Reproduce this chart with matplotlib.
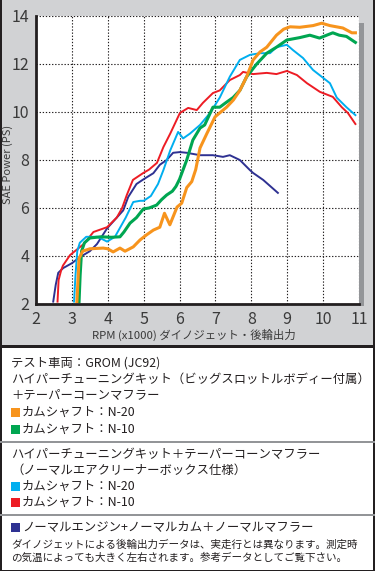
import matplotlib
matplotlib.use('Agg')
import matplotlib.pyplot as plt
from matplotlib.patches import Rectangle

plt.rcParams['font.family'] = ['Noto Sans CJK JP', 'DejaVu Sans']

# data (RPM x1000, SAE power PS)
rpm_n20_big = [3.14, 3.17, 3.2, 3.3, 3.5, 3.87, 4.0, 4.15, 4.34, 4.48, 4.71, 4.9, 5.08, 5.27,
               5.45, 5.58, 5.73, 5.93, 6.06, 6.2, 6.34, 6.45, 6.57, 6.76, 6.99, 7.15, 7.31,
               7.5, 7.68, 7.87, 8.05, 8.24, 8.43, 8.7, 8.9, 9.08, 9.35, 9.72, 9.96, 10.19,
               10.55, 10.8, 10.9]
ps_n20_big = [2.1, 3.0, 3.9, 4.2, 4.3, 4.33, 4.3, 4.17, 4.33, 4.2, 4.38, 4.67, 4.88, 5.08,
              5.2, 5.78, 5.3, 6.04, 6.2, 6.85, 7.1, 7.6, 8.5, 9.1, 9.8, 10.0, 10.2,
              10.5, 10.9, 11.47, 12.17, 12.5, 12.7, 13.2, 13.45, 13.55, 13.53, 13.6, 13.7, 13.6,
              13.5, 13.3, 13.3]

rpm_n10_big = [3.2, 3.23, 3.27, 3.35, 3.5, 3.8, 4.1, 4.34, 4.45, 4.62, 4.8, 4.99, 5.15, 5.36,
               5.5, 5.64, 5.8, 5.9, 6.0, 6.2, 6.37, 6.57, 6.7, 6.93, 7.12, 7.3, 7.49, 7.68,
               7.87, 8.15, 8.43, 8.7, 8.99, 9.35, 9.63, 9.9, 10.1, 10.27, 10.45, 10.65, 10.9]
ps_n10_big = [2.1, 3.2, 4.2, 4.55, 4.75, 4.8, 4.78, 4.8, 5.0, 5.37, 5.6, 5.96, 6.0, 6.12,
              6.35, 6.54, 6.7, 6.9, 7.2, 8.0, 8.83, 9.33, 9.46, 10.2, 10.2, 10.4, 10.6, 10.9,
              11.47, 12.0, 12.45, 12.7, 13.0, 13.1, 13.2, 13.08, 13.2, 13.3, 13.2, 13.15, 12.9]

rpm_n20_box = [3.06, 3.1, 3.15, 3.22, 3.4, 3.7, 3.85, 3.98, 4.2, 4.35, 4.5, 4.71, 4.9, 5.0,
               5.2, 5.4, 5.55, 5.74, 5.96, 6.1, 6.29, 6.57, 6.85, 7.12, 7.4, 7.68, 7.96, 8.24,
               8.52, 8.7, 8.99, 9.16, 9.44, 9.72, 9.96, 10.19, 10.38, 10.65, 10.9]
ps_n20_box = [2.1, 3.2, 4.2, 4.55, 4.8, 4.8, 4.7, 4.6, 4.8, 5.2, 5.6, 6.25, 6.3, 6.3,
              6.5, 7.0, 7.58, 8.4, 9.17, 8.9, 9.1, 9.46, 9.96, 10.6, 11.47, 12.17, 12.38, 12.45,
              12.45, 12.7, 12.8, 12.58, 12.25, 11.75, 11.47, 11.2, 10.6, 10.2, 9.87]

rpm_n10_box = [2.6, 2.63, 2.7, 2.75, 2.95, 3.33, 3.6, 3.98, 4.25, 4.4, 4.53, 4.7, 4.99, 5.15,
               5.37, 5.55, 5.74, 6.01, 6.24, 6.48, 6.65, 6.93, 7.12, 7.4, 7.68, 7.77, 8.05,
               8.43, 8.7, 8.99, 9.27, 9.55, 9.91, 10.27, 10.52, 10.69, 10.9]
ps_n10_box = [2.1, 3.0, 3.4, 3.6, 4.04, 4.5, 5.0, 5.2, 5.6, 6.0, 6.54, 7.17, 7.46, 7.6,
              7.88, 8.54, 9.1, 9.96, 10.17, 10.08, 10.38, 10.79, 10.9, 11.33, 11.54, 11.67, 11.58,
              11.63, 11.58, 11.71, 11.54, 11.2, 10.84, 10.63, 10.2, 9.96, 9.5]

rpm_normal = [2.48, 2.55, 2.62, 2.76, 3.0, 3.23, 3.5, 3.7, 3.98, 4.25, 4.43, 4.57, 4.8, 5.0,
              5.27, 5.45, 5.64, 5.82, 6.01, 6.2, 6.57, 6.93, 7.21, 7.4, 7.68, 7.96, 8.05,
              8.33, 8.74]
ps_normal = [2.1, 2.8, 3.3, 3.5, 3.7, 3.96, 4.2, 4.5, 5.15, 5.6, 5.9, 6.46, 7.0, 7.2,
             7.45, 7.8, 8.0, 8.3, 8.33, 8.3, 8.2, 8.2, 8.13, 8.2, 8.0, 7.58, 7.46,
             7.17, 6.63]

c_orange = '#f7941d'
c_green = '#00a651'
c_cyan = '#00aeef'
c_red = '#ed1c24'
c_navy = '#2e3192'
c_text = '#231f20'

W, H = 375, 571


def fx(x):
    return x / W


def fy(y):
    return 1 - y / H


fig = plt.figure(figsize=(3.75, 5.71), dpi=100)
fig.patch.set_facecolor('white')

# grey chart panel and white text box
fig.patches.append(Rectangle((0, fy(346)), 1, 1 - fy(346), transform=fig.transFigure,
                             facecolor='#d1d2d4', edgecolor='none', zorder=0))
fig.patches.append(Rectangle((0, fy(347.5)), 1, 2.5 / H, transform=fig.transFigure,
                             facecolor='#231f20', edgecolor='none', zorder=1))
# outer frame
fig.patches.append(Rectangle((0, 0), 1.5 / W, 1, transform=fig.transFigure,
                             facecolor='#231f20', edgecolor='none', zorder=1))
fig.patches.append(Rectangle((fx(372.5), 0), 2.5 / W, 1, transform=fig.transFigure,
                             facecolor='#231f20', edgecolor='none', zorder=1))
fig.patches.append(Rectangle((0, 0), 1, 1.5 / H, transform=fig.transFigure,
                             facecolor='#231f20', edgecolor='none', zorder=1))
# separators in the text box
for ysep in (442, 514.5):
    fig.patches.append(Rectangle((0, fy(ysep + 1)), 1, 2 / H, transform=fig.transFigure,
                                 facecolor='#939598', edgecolor='none', zorder=1))
# drop shadow of the plot area
fig.patches.append(Rectangle((fx(359), fy(306)), 4.5 / W, (306 - 23) / H,
                             transform=fig.transFigure, facecolor='#939598',
                             edgecolor='none', zorder=1))

ax = fig.add_axes([fx(36), fy(304), (359 - 36) / W, (304 - 16) / H])
ax.set_zorder(5)
ax.set_facecolor('white')

ax.plot(rpm_normal, ps_normal, color=c_navy, lw=1.4, solid_joinstyle='round')
ax.plot(rpm_n10_box, ps_n10_box, color=c_red, lw=1.4, solid_joinstyle='round')
ax.plot(rpm_n20_box, ps_n20_box, color=c_cyan, lw=1.4, solid_joinstyle='round')
ax.plot(rpm_n10_big, ps_n10_big, color=c_green, lw=2.2, solid_joinstyle='round')
ax.plot(rpm_n20_big, ps_n20_big, color=c_orange, lw=2.2, solid_joinstyle='round')

ax.set_xlim(2, 11)
ax.set_ylim(2, 14)
ax.set_xticks(range(2, 12))
ax.set_yticks(range(2, 15, 2))
ax.tick_params(length=0, labelsize=11.5, labelcolor='#3a3a3a', pad=5)
ax.grid(True, color='#231f20', lw=0.8, linestyle=(0, (1.2, 1.6)))
ax.set_axisbelow(True)
for s in ('top', 'right'):
    ax.spines[s].set_visible(False)
for s in ('left', 'bottom'):
    ax.spines[s].set_linewidth(2.0)
    ax.spines[s].set_color('#231f20')

fig.text(fx(8), fy(164), 'SAE Power (PS)', rotation=90, ha='center', va='center',
         fontsize=8, color='#3a3a3a')
fig.text(fx(194), fy(335), 'RPM (x1000) ダイノジェット・後輪出力', ha='center', va='center',
         fontsize=8.2, color='#3a3a3a')

# text box contents
fs = 8.9
tx = fx(11)
fig.text(tx, fy(363), 'テスト車両：GROM (JC92)', fontsize=fs, color=c_text, va='center')
fig.text(tx, fy(379), 'ハイパーチューニングキット（ビッグスロットルボディー付属）',
         fontsize=fs, color=c_text, va='center')
fig.text(tx, fy(395), '＋テーパーコーンマフラー', fontsize=fs, color=c_text, va='center')
fig.text(tx, fy(455), 'ハイパーチューニングキット＋テーパーコーンマフラー',
         fontsize=fs, color=c_text, va='center')
fig.text(tx, fy(470), '（ノーマルエアクリーナーボックス仕様）', fontsize=fs, color=c_text, va='center')

legend_rows = [
    (412, c_orange, 'カムシャフト：N-20'),
    (429, c_green, 'カムシャフト：N-10'),
    (486, c_cyan, 'カムシャフト：N-20'),
    (502, c_red, 'カムシャフト：N-10'),
    (527, c_navy, 'ノーマルエンジン+ノーマルカム＋ノーマルマフラー'),
]
for y, col, label in legend_rows:
    fig.patches.append(Rectangle((fx(11), fy(y + 4.5)), 9 / W, 9 / H,
                                 transform=fig.transFigure, facecolor=col,
                                 edgecolor='none', zorder=2))
    fig.text(fx(22), fy(y), label, fontsize=fs, color=c_text, va='center')

fig.text(tx, fy(545), 'ダイノジェットによる後輪出力データは、実走行とは異なります。測定時',
         fontsize=7.6, color=c_text, va='center')
fig.text(tx, fy(558), 'の気温によっても大きく左右されます。参考データとしてご覧下さい。',
         fontsize=7.6, color=c_text, va='center')

fig.savefig('out.png', dpi=100)
